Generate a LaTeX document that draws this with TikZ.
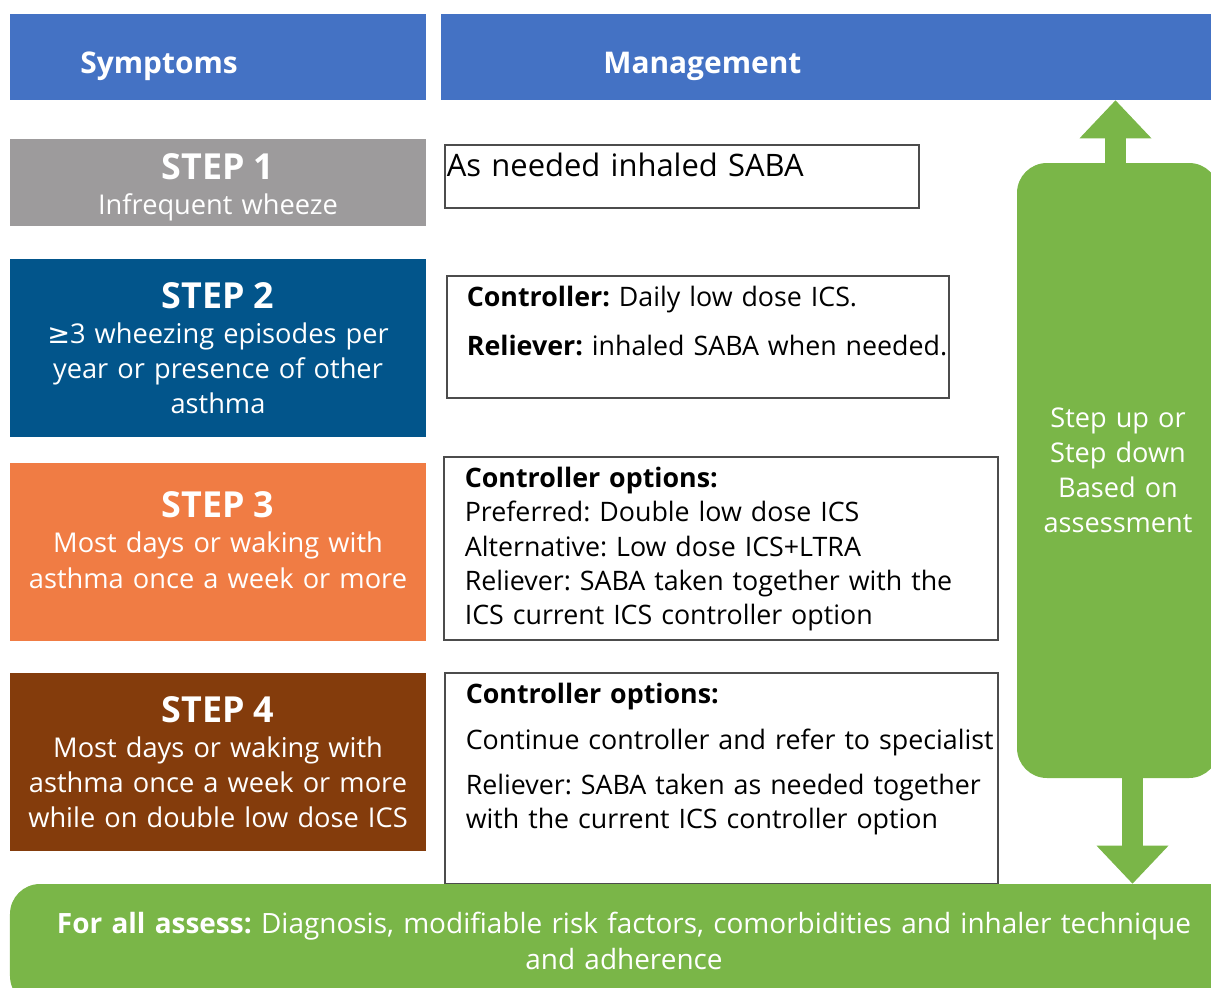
\documentclass[tikz,border=0pt]{standalone}
\usepackage{fontspec}
\setmainfont{Open Sans}
\newfontfamily\symfont{DejaVu Sans}
\usetikzlibrary{arrows.meta,
                positioning
            }
\definecolor{hdblue}{HTML}{4472C4}
\definecolor{stepgray}{HTML}{9D9B9C}
\definecolor{stepblue}{HTML}{02558B}
\definecolor{steporange}{HTML}{F07C44}
\definecolor{stepbrown}{HTML}{843C0C}
\definecolor{assessgreen}{HTML}{7AB648}
\newcommand{\stephead}[1]{{\bfseries\fontsize{20.4}{20}\selectfont #1}}
\frenchspacing

\begin{document}
        \begin{tikzpicture}[
            header/.style={fill=hdblue, minimum height=1.72cm, inner sep=0pt},
            hdtext/.style={text=white, font=\bfseries\fontsize{17}{20}\selectfont, inner sep=0pt, anchor=base west},
            stepbox/.style={minimum width=8.32cm, minimum height=3.56cm, text width=8.32cm, align=center, text=white, inner sep=0pt, font=\fontsize{15.5}{20}\selectfont},
            mbox/.style={draw=black!70, line width=0.6pt, inner sep=0pt},
            mtext/.style={inner sep=0pt, anchor=north west, align=left, font=\fontsize{15.25}{19.5}\selectfont},
            greenbox/.style={fill=assessgreen, rounded corners=0.6cm, text=white, align=center, inner sep=0pt, font=\fontsize{15.45}{20}\selectfont},
            bigarrow/.style={draw=assessgreen, line width=0.42cm, -{Triangle[width=1.44cm, length=0.76cm, line width=0pt]}}
        ]
            \useasboundingbox (0, 0) rectangle (24.22, -19.74);

            \node[header, minimum width=8.32cm] (sym) at (4.36, -1.14) {};
            \node[header, minimum width=15.58cm] (mgmt) at (16.61, -1.14) {};
            \node[hdtext] (symtxt) at (1.6, -1.46) {Symptoms};
            \node[hdtext] (mgmttxt) at (12.06, -1.46) {Management};

            \node[stepbox, fill=stepgray, minimum height=1.74cm] (s1) at (4.36, -3.65) {\stephead{STEP 1}\\ Infrequent wheeze\par\vspace{-0.2cm}};
            \node[stepbox, fill=stepblue] (s2) at (4.36, -6.96) {\stephead{STEP 2}\\ {\symfont ≥}3 wheezing episodes per\\ year or presence of other\\ asthma};
            \node[stepbox, fill=steporange] (s3) at (4.36, -11.04) {\stephead{STEP 3}\\ Most days or waking with\\ asthma once a week or more\par\vspace{0.48cm}};
            \node[stepbox, fill=stepbrown] (s4) at (4.36, -15.24) {\stephead{STEP 4}\\ Most days or waking with\\ asthma once a week or more\\ while on double low dose ICS};

            \node[mbox, minimum width=9.48cm, minimum height=1.26cm] (m1) at (13.64, -3.53) {};
            \node[mbox, minimum width=10.04cm, minimum height=2.44cm] (m2) at (13.96, -6.74) {};
            \node[mbox, minimum width=11.08cm, minimum height=3.66cm] (m3) at (14.42, -10.97) {};
            \node[mbox, minimum width=11.06cm, minimum height=4.22cm] (m4) at (14.43, -15.57) {};

            \node[mtext, text width=9.4cm, font=\fontsize{17.6}{20}\selectfont, below right=0.17cm and 0.04cm of m1.north west] (m1t) {As needed inhaled SABA};
            \node[mtext, text width=9.95cm, below right=0.21cm and 0.4cm of m2.north west] (m2t) {\textbf{Controller:} Daily low dose ICS.\\[8.5pt] \textbf{Reliever:} inhaled SABA when needed.};
            \node[mtext, text width=10.64cm, below right=0.21cm and 0.42cm of m3.north west] (m3t) {\textbf{Controller options:}\\ Preferred: Double low dose ICS\\ Alternative: Low dose ICS+LTRA\\ Reliever: SABA taken together with the\\ ICS current ICS controller option};
            \node[mtext, text width=10.64cm, below right=0.21cm and 0.42cm of m4.north west] (m4t) {\textbf{Controller options:}\\[6.3pt] Continue controller and refer to specialist\\[6.3pt] Reliever: SABA taken as needed together\\ with the current ICS controller option};

            \node[greenbox, minimum width=4.04cm, minimum height=12.3cm, text width=4cm] (rstep) at (22.36, -9.41) {Step up or\\ Step down\\ Based on\\ assessment};
            \node[greenbox, minimum width=24.56cm, minimum height=2.44cm, text width=24cm, font=\fontsize{15.9}{20}\selectfont] (allbar) at (12.48, -18.9) {\textbf{For all assess:} Diagnosis, modifiable risk factors, comorbidities and inhaler technique\\ and adherence\par\vspace{0.16cm}};

            \draw[bigarrow] ([xshift=-0.05cm]rstep.north) -- ([xshift=-0.05cm]rstep.north |- mgmt.south);
            \draw[bigarrow] ([xshift=0.29cm]rstep.south) -- ([xshift=0.29cm]rstep.south |- allbar.north);
        \end{tikzpicture}
\end{document}
